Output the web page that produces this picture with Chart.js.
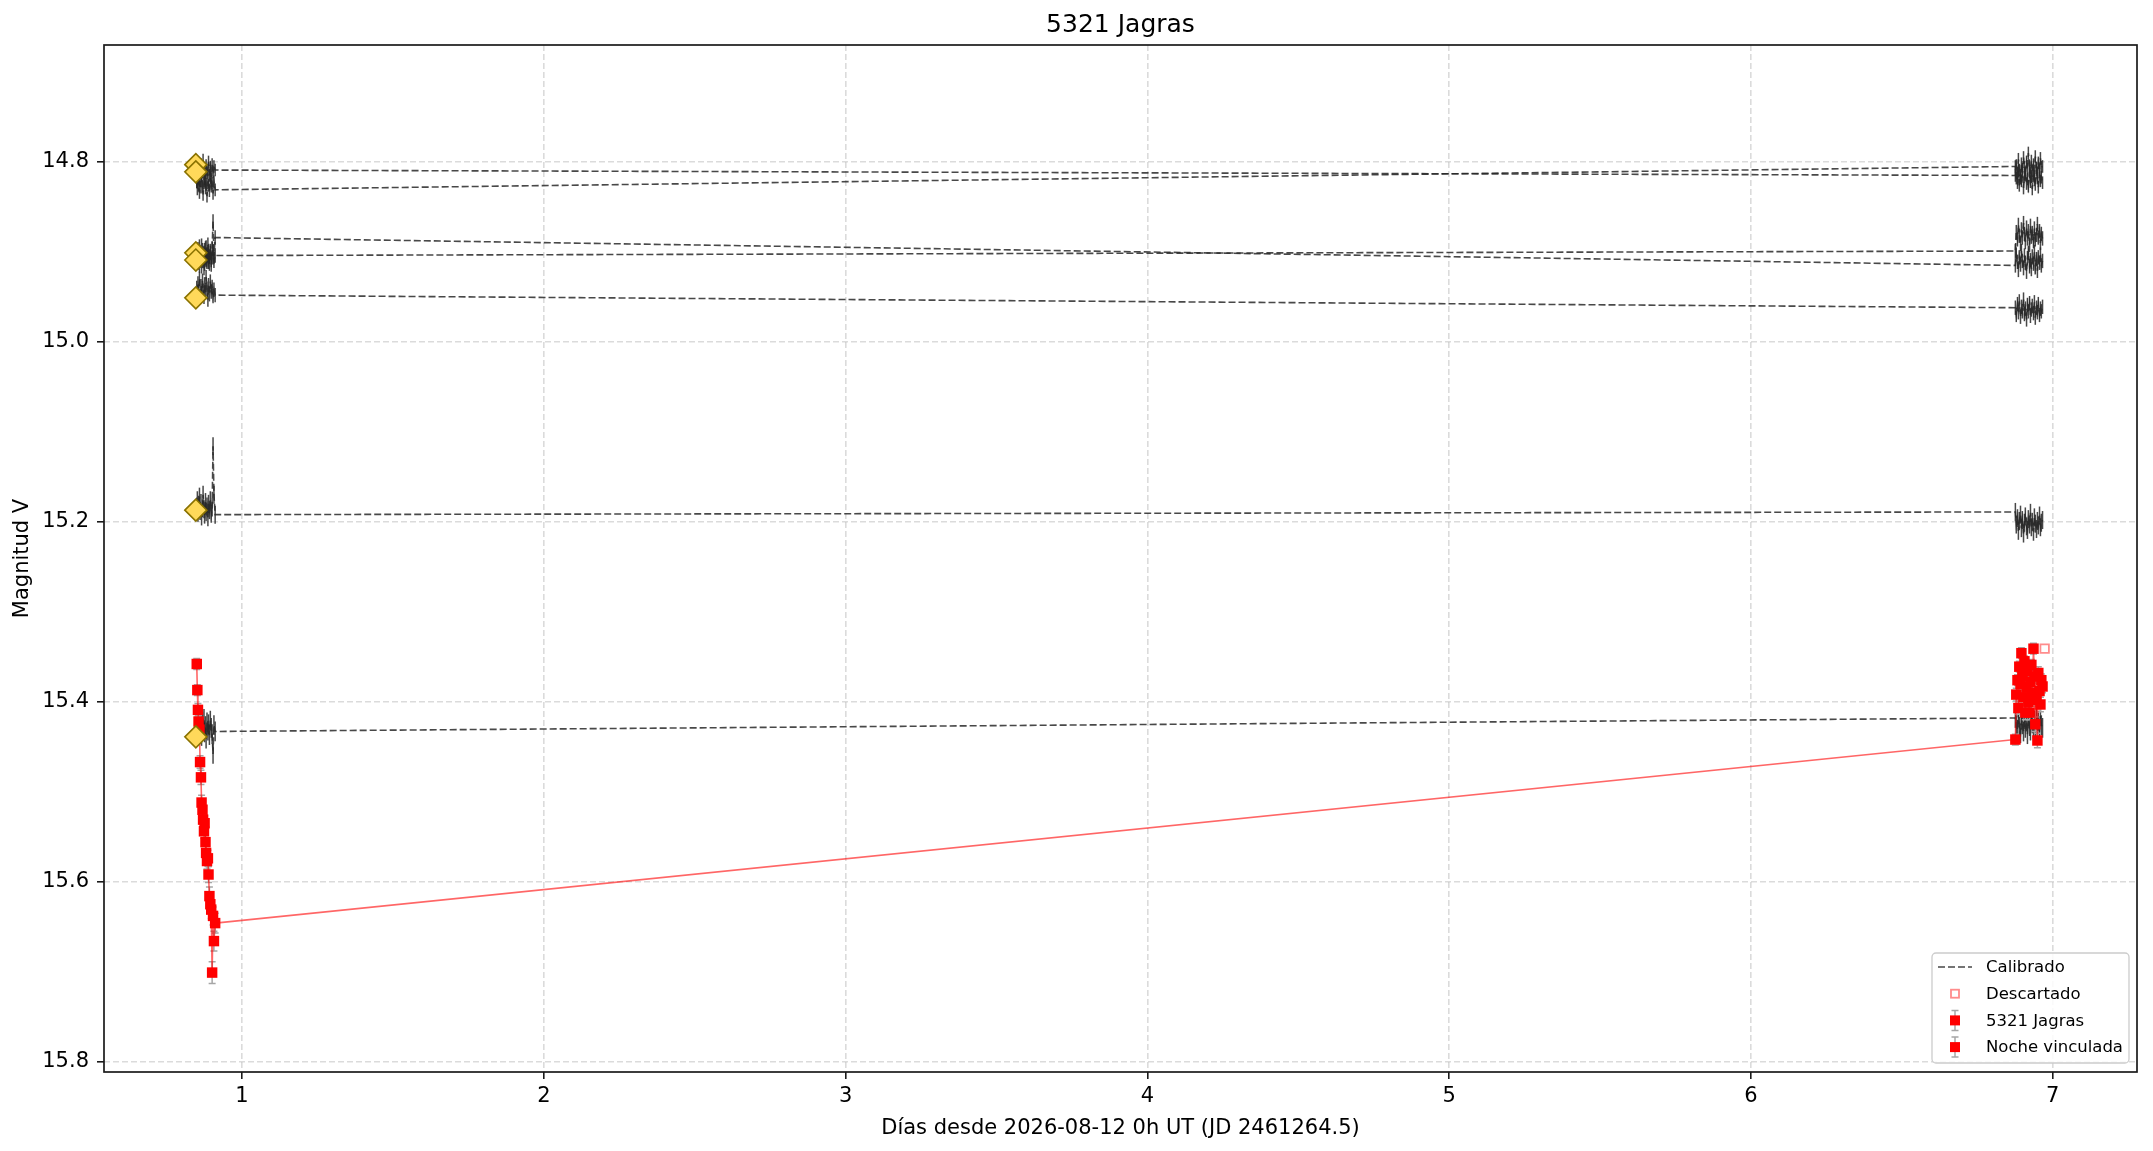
<!DOCTYPE html>
<html>
<head>
<meta charset="utf-8">
<script src="https://cdn.jsdelivr.net/npm/chart.js@4.4.1/dist/chart.umd.min.js"></script>
<style>
  html, body { margin: 0; padding: 0; background: #fff; }
  canvas { display: block; }
</style>
</head>
<body>
<canvas id="chart" width="2153" height="1151" style="width:2153px;height:1151px"></canvas>
<script>
// ---- data (days since 2026-08-12 0h UT, magnitude V) ----
const xTicks = [1, 2, 3, 4, 5, 6, 7];
const yTicks = [14.8, 15.0, 15.2, 15.4, 15.6, 15.8];

// night 1 / night 2 frame times
const night1Times = [0.850, 0.852, 0.854, 0.856, 0.859, 0.861, 0.864, 0.866, 0.869, 0.871, 0.874, 0.876,
  0.879, 0.881, 0.884, 0.887, 0.889, 0.892, 0.895, 0.898, 0.901, 0.904, 0.907, 0.911];
const night2Times = [6.876, 6.879, 6.883, 6.886, 6.889, 6.893, 6.896, 6.899, 6.903, 6.906, 6.909, 6.913,
  6.916, 6.919, 6.923, 6.926, 6.929, 6.932, 6.936, 6.939, 6.942, 6.946, 6.949, 6.952, 6.956, 6.959, 6.962, 6.966];

// target 5321 Jagras
const jagrasNight1 = [15.358, 15.387, 15.409, 15.422, 15.431, 15.467, 15.484, 15.512, 15.520, 15.531, 15.544, 15.535,
  15.556, 15.568, 15.577, 15.574, 15.592, 15.616, 15.625, 15.631, 15.701, 15.638, 15.666, 15.646];
const jagrasErr1 = [0.006, 0.006, 0.007, 0.007, 0.007, 0.007, 0.008, 0.008, 0.008, 0.008, 0.008, 0.008,
  0.009, 0.009, 0.009, 0.009, 0.009, 0.010, 0.010, 0.010, 0.012, 0.010, 0.011, 0.011];
const jagrasNight2 = [15.442, 15.392, 15.376, 15.407, 15.361, 15.380, 15.346, 15.371, 15.395, 15.355, 15.412, 15.384,
  15.366, 15.400, 15.412, 15.378, 15.359, 15.390, 15.341, 15.372, 15.425, 15.398, 15.443, 15.368, 15.388, 15.403, 15.376, 15.383];
const jagrasErr2 = [0.006, 0.007, 0.006, 0.007, 0.006, 0.007, 0.006, 0.007, 0.007, 0.006, 0.008, 0.007,
  0.006, 0.007, 0.008, 0.007, 0.006, 0.007, 0.006, 0.007, 0.008, 0.007, 0.008, 0.007, 0.007, 0.008, 0.007, 0.007];

// discarded point
const discardTimes = [6.973];
const discardMags = [15.341];

// comparison stars: catalogue magnitude (diamonds) and calibrated series
const refTime = 0.847;
const refMags = [14.803, 14.811, 14.901, 14.909, 14.951, 15.187, 15.439];
const compErr = [0.007, 0.007, 0.008, 0.008, 0.008, 0.010, 0.011];

const comp1Night1 = [14.806, 14.815, 14.801, 14.812, 14.820, 14.808, 14.803, 14.816, 14.811, 14.798, 14.813, 14.807,
  14.819, 14.804, 14.812, 14.809, 14.800, 14.815, 14.806, 14.817, 14.803, 14.811, 14.805, 14.809];
const comp1Night2 = [14.815, 14.804, 14.812, 14.797, 14.809, 14.818, 14.802, 14.811, 14.795, 14.806, 14.814, 14.800,
  14.808, 14.790, 14.805, 14.813, 14.799, 14.810, 14.803, 14.816, 14.794, 14.807, 14.812, 14.801, 14.809, 14.796, 14.806, 14.805];
const comp2Night1 = [14.822, 14.830, 14.817, 14.826, 14.834, 14.821, 14.828, 14.815, 14.827, 14.836, 14.823, 14.819,
  14.829, 14.825, 14.838, 14.820, 14.826, 14.832, 14.818, 14.827, 14.824, 14.835, 14.822, 14.831];
const comp2Night2 = [14.805, 14.818, 14.823, 14.810, 14.826, 14.815, 14.821, 14.808, 14.829, 14.817, 14.812, 14.824,
  14.819, 14.827, 14.811, 14.822, 14.816, 14.830, 14.813, 14.820, 14.825, 14.809, 14.818, 14.828, 14.814, 14.821, 14.817, 14.823];
const comp3Night1 = [14.903, 14.912, 14.897, 14.908, 14.915, 14.900, 14.906, 14.893, 14.910, 14.902, 14.918, 14.898,
  14.907, 14.895, 14.911, 14.904, 14.899, 14.913, 14.901, 14.909, 14.896, 14.866, 14.905, 14.884];
const comp3Night2 = [14.915, 14.903, 14.911, 14.920, 14.906, 14.914, 14.899, 14.910, 14.918, 14.904, 14.912, 14.922,
  14.907, 14.901, 14.916, 14.909, 14.919, 14.905, 14.913, 14.900, 14.917, 14.908, 14.921, 14.906, 14.912, 14.903, 14.915, 14.910];
const comp4Night1 = [14.908, 14.899, 14.912, 14.902, 14.894, 14.910, 14.904, 14.916, 14.898, 14.907, 14.901, 14.913,
  14.896, 14.909, 14.903, 14.892, 14.911, 14.905, 14.899, 14.914, 14.906, 14.900, 14.910, 14.904];
const comp4Night2 = [14.899, 14.878, 14.886, 14.870, 14.882, 14.891, 14.875, 14.884, 14.868, 14.880, 14.889, 14.873,
  14.885, 14.877, 14.892, 14.871, 14.883, 14.879, 14.888, 14.874, 14.886, 14.881, 14.869, 14.884, 14.877, 14.890, 14.880, 14.885];
const comp5Night1 = [14.940, 14.948, 14.935, 14.944, 14.930, 14.951, 14.938, 14.946, 14.932, 14.943, 14.950, 14.936,
  14.945, 14.928, 14.941, 14.953, 14.937, 14.947, 14.933, 14.944, 14.939, 14.949, 14.942, 14.948];
const comp5Night2 = [14.962, 14.970, 14.958, 14.967, 14.955, 14.972, 14.961, 14.966, 14.953, 14.969, 14.963, 14.975,
  14.959, 14.966, 14.957, 14.971, 14.964, 14.960, 14.968, 14.956, 14.973, 14.962, 14.967, 14.958, 14.970, 14.963, 14.966, 14.961];
const comp6Night1 = [15.183, 15.176, 15.190, 15.181, 15.172, 15.188, 15.179, 15.194, 15.185, 15.170, 15.186, 15.192,
  15.178, 15.189, 15.183, 15.195, 15.180, 15.187, 15.176, 15.191, 15.184, 15.116, 15.170, 15.192];
const comp6Night2 = [15.189, 15.203, 15.196, 15.210, 15.199, 15.192, 15.207, 15.198, 15.213, 15.201, 15.194, 15.205,
  15.209, 15.197, 15.203, 15.190, 15.206, 15.200, 15.211, 15.195, 15.202, 15.208, 15.199, 15.204, 15.193, 15.206, 15.201, 15.198];
const comp7Night1 = [15.428, 15.420, 15.435, 15.424, 15.416, 15.431, 15.426, 15.438, 15.422, 15.430, 15.419, 15.434,
  15.427, 15.441, 15.423, 15.432, 15.425, 15.437, 15.421, 15.429, 15.436, 15.458, 15.426, 15.433];
const comp7Night2 = [15.418, 15.426, 15.431, 15.414, 15.428, 15.435, 15.420, 15.425, 15.433, 15.417, 15.429, 15.422,
  15.436, 15.419, 15.427, 15.432, 15.415, 15.424, 15.430, 15.421, 15.434, 15.418, 15.428, 15.423, 15.431, 15.416, 15.426, 15.429];

const compNight1 = [comp1Night1, comp2Night1, comp3Night1, comp4Night1, comp5Night1, comp6Night1, comp7Night1];
const compNight2 = [comp1Night2, comp2Night2, comp3Night2, comp4Night2, comp5Night2, comp6Night2, comp7Night2];

// ---- styles ----
const FONT = "'DejaVu Sans', 'Liberation Sans', sans-serif";
const RED = "#ff0000";
const RED_LINE = "rgba(255,0,0,0.6)";
const ERR_GRAY = "#a6a6a6";
const COMP_COLOR = "rgba(40,40,40,0.85)";
const GOLD = "#ffd95a";
const GOLD_EDGE = "#8a7200";
const DISCARD = "#ff8c8c";

var pts = (xs, ys) => xs.map((x, i) => ({ x: x, y: ys[i] }));

// ---- plugins ----
// vertical error bars, drawn just under each dataset
const errorBars = {
  id: "errorBars",
  beforeDatasetDraw(chart, args) {
    const ds = chart.data.datasets[args.index];
    if (!ds.errors) return;
    const ctx = chart.ctx;
    const xs = chart.scales.x, ys = chart.scales.y;
    const area = chart.chartArea;
    ctx.save();
    ctx.beginPath();
    ctx.rect(area.left, area.top, area.width, area.height);
    ctx.clip();
    ctx.strokeStyle = ds.errorColor;
    ctx.lineWidth = ds.errorWidth;
    ctx.setLineDash([]);
    ds.data.forEach((p, i) => {
      const e = Array.isArray(ds.errors) ? ds.errors[i] : ds.errors;
      const px = xs.getPixelForValue(p.x);
      const y1 = ys.getPixelForValue(p.y - e);
      const y2 = ys.getPixelForValue(p.y + e);
      ctx.beginPath();
      ctx.moveTo(px, y1);
      ctx.lineTo(px, y2);
      if (ds.errorCap) {
        ctx.moveTo(px - ds.errorCap, y1);
        ctx.lineTo(px + ds.errorCap, y1);
        ctx.moveTo(px - ds.errorCap, y2);
        ctx.lineTo(px + ds.errorCap, y2);
      }
      ctx.stroke();
    });
    ctx.restore();
  },
};

// full frame around the plot area
const frame = {
  id: "frame",
  afterDatasetsDraw(chart) {
    const ctx = chart.ctx, a = chart.chartArea;
    ctx.save();
    ctx.strokeStyle = "#1a1a1a";
    ctx.lineWidth = 1.7;
    ctx.strokeRect(a.left, a.top, a.width, a.height);
    ctx.restore();
  },
};

// matplotlib-like legend in the lower right corner
const legendBox = {
  id: "legendBox",
  afterDraw(chart) {
    const ctx = chart.ctx, a = chart.chartArea;
    const w = 197, h = 110;
    const x0 = a.right - 8 - w, y0 = a.bottom - 9 - h;
    ctx.save();
    ctx.beginPath();
    if (ctx.roundRect) ctx.roundRect(x0, y0, w, h, 4);
    else ctx.rect(x0, y0, w, h);
    ctx.fillStyle = "rgba(255,255,255,0.85)";
    ctx.fill();
    ctx.strokeStyle = "#cccccc";
    ctx.lineWidth = 1.3;
    ctx.stroke();

    const hx = x0 + 23, tx = x0 + 54;
    const rowY = (i) => y0 + 14 + i * 26.7;

    // Calibrado
    ctx.strokeStyle = COMP_COLOR;
    ctx.lineWidth = 1.6;
    ctx.setLineDash([7, 3]);
    ctx.beginPath();
    ctx.moveTo(hx - 17, rowY(0));
    ctx.lineTo(hx + 17, rowY(0));
    ctx.stroke();
    ctx.setLineDash([]);

    // Descartado
    ctx.strokeStyle = DISCARD;
    ctx.lineWidth = 1.8;
    ctx.strokeRect(hx - 4, rowY(1) - 4, 8, 8);

    // 5321 Jagras, Noche vinculada
    [2, 3].forEach((i) => {
      const y = rowY(i);
      ctx.strokeStyle = ERR_GRAY;
      ctx.lineWidth = 1.5;
      ctx.beginPath();
      ctx.moveTo(hx, y - 10); ctx.lineTo(hx, y + 10);
      ctx.moveTo(hx - 3.5, y - 10); ctx.lineTo(hx + 3.5, y - 10);
      ctx.moveTo(hx - 3.5, y + 10); ctx.lineTo(hx + 3.5, y + 10);
      ctx.stroke();
      ctx.fillStyle = RED;
      ctx.fillRect(hx - 5, y - 5, 10, 10);
    });

    ctx.fillStyle = "#000";
    ctx.font = "16.5px " + FONT;
    ctx.textBaseline = "middle";
    ctx.textAlign = "left";
    ["Calibrado", "Descartado", "5321 Jagras", "Noche vinculada"].forEach((t, i) => {
      ctx.fillText(t, tx, rowY(i) + 1);
    });
    ctx.restore();
  },
};

// ---- datasets (first one is drawn on top) ----
const datasets = [];

datasets.push({
  label: "Referencia",
  data: refMags.map((m) => ({ x: refTime, y: m })),
  showLine: false,
  pointStyle: "rectRot",
  pointRadius: 11,
  backgroundColor: GOLD,
  borderColor: GOLD_EDGE,
  borderWidth: 1.6,
});

datasets.push({
  label: "Descartado",
  data: pts(discardTimes, discardMags),
  showLine: false,
  pointStyle: "rect",
  pointRadius: 6,
  backgroundColor: "rgba(0,0,0,0)",
  borderColor: DISCARD,
  borderWidth: 1.8,
});

datasets.push({
  label: "5321 Jagras",
  data: pts(night1Times, jagrasNight1),
  errors: jagrasErr1, errorColor: ERR_GRAY, errorWidth: 1.5, errorCap: 3.5,
  showLine: true,
  borderColor: RED_LINE,
  borderWidth: 1.6,
  pointStyle: "rect",
  pointRadius: 7.4,
  pointBackgroundColor: RED,
  pointBorderWidth: 0,
});

datasets.push({
  label: "Noche vinculada",
  data: pts(night2Times, jagrasNight2),
  errors: jagrasErr2, errorColor: ERR_GRAY, errorWidth: 1.5, errorCap: 3.5,
  showLine: true,
  borderColor: RED_LINE,
  borderWidth: 1.6,
  pointStyle: "rect",
  pointRadius: 7.4,
  pointBackgroundColor: RED,
  pointBorderWidth: 0,
});

// link between the last point of night 1 and the first of night 2
datasets.push({
  label: "enlace",
  data: [
    { x: night1Times[night1Times.length - 1], y: jagrasNight1[jagrasNight1.length - 1] },
    { x: night2Times[0], y: jagrasNight2[0] },
  ],
  showLine: true,
  borderColor: RED_LINE,
  borderWidth: 1.6,
  pointRadius: 0,
});

for (let i = 0; i < compNight1.length; i++) {
  datasets.push({
    label: "Calibrado " + (i + 1),
    data: pts(night1Times.concat(night2Times), compNight1[i].concat(compNight2[i])),
    errors: compErr[i], errorColor: "rgba(40,40,40,0.85)", errorWidth: 1.5, errorCap: 0,
    showLine: true,
    borderColor: COMP_COLOR,
    borderWidth: 1.6,
    borderDash: [7, 3],
    pointRadius: 0,
  });
}

// ---- chart ----
new Chart(document.getElementById("chart").getContext("2d"), {
  type: "scatter",
  data: { datasets: datasets },
  plugins: [errorBars, frame, legendBox],
  options: {
    responsive: false,
    animation: false,
    devicePixelRatio: 1,
    events: [],
    layout: { padding: { top: 0, right: 16, bottom: 0, left: 0 } },
    plugins: {
      legend: { display: false },
      tooltip: { enabled: false },
      title: {
        display: true,
        text: "5321 Jagras",
        fullSize: false,
        color: "#000",
        font: { family: FONT, size: 25, weight: "normal" },
        padding: { top: 10, bottom: 5 },
      },
    },
    scales: {
      x: {
        type: "linear",
        min: 0.5427,
        max: 7.279,
        afterFit(scale) { scale.height = 79; },
        afterBuildTicks(scale) { scale.ticks = xTicks.map((v) => ({ value: v })); },
        ticks: {
          autoSkip: false,
          maxRotation: 0,
          padding: 5,
          color: "#000",
          font: { family: FONT, size: 21 },
          callback: (v) => String(v),
        },
        grid: {
          color: "rgba(176,176,176,0.45)",
          lineWidth: 1.6,
          tickLength: 7,
          tickColor: "#1a1a1a",
          tickWidth: 1.6,
          tickBorderDash: [],
        },
        border: { display: false, dash: [6, 3] },
        title: {
          display: true,
          text: "Días desde 2026-08-12 0h UT (JD 2461264.5)",
          color: "#000",
          font: { family: FONT, size: 21 },
          padding: { top: 0, bottom: 10 },
        },
      },
      y: {
        type: "linear",
        reverse: true,
        min: 14.67,
        max: 15.8115,
        afterFit(scale) { scale.width = 104; },
        afterBuildTicks(scale) { scale.ticks = yTicks.map((v) => ({ value: v })); },
        ticks: {
          autoSkip: false,
          padding: 8,
          color: "#000",
          font: { family: FONT, size: 21 },
          callback: (v) => Number(v).toFixed(1),
        },
        grid: {
          color: "rgba(176,176,176,0.45)",
          lineWidth: 1.6,
          tickLength: 7,
          tickColor: "#1a1a1a",
          tickWidth: 1.6,
          tickBorderDash: [],
        },
        border: { display: false, dash: [6, 3] },
        title: {
          display: true,
          text: "Magnitud V",
          color: "#000",
          font: { family: FONT, size: 21 },
          padding: { top: 10, bottom: 0 },
        },
      },
    },
  },
});
</script>
</body>
</html>
